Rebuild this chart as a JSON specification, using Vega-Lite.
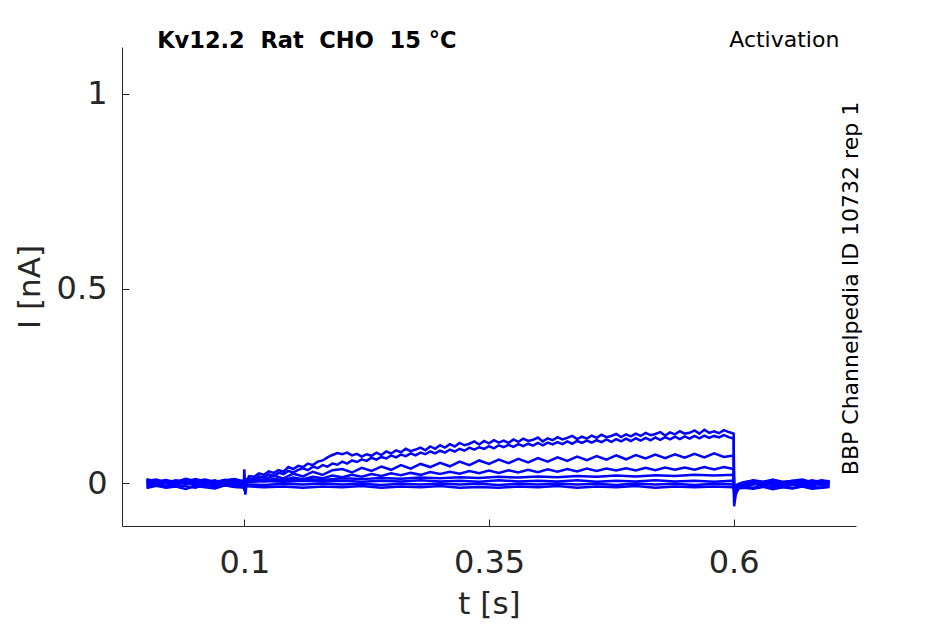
{
  "$schema": "https://vega.github.io/schema/vega-lite/v6.json",
  "width": 734,
  "height": 479,
  "autosize": "none",
  "padding": {"left": 122, "top": 47, "right": 89, "bottom": 98},
  "background": "white",
  "config": {"view": {"stroke": null}, "font": "DejaVu Sans"},
  "layer": [
    {
      "data": {"values": [
        {"trace":"A","t":0,"I":0.003},{"trace":"A","t":0.01,"I":-0.004},{"trace":"A","t":0.02,"I":0.006},{"trace":"A","t":0.03,"I":-0.002},{"trace":"A","t":0.04,"I":0.004},{"trace":"A","t":0.05,"I":-0.005},{"trace":"A","t":0.06,"I":0.002},{"trace":"A","t":0.07,"I":0.007},{"trace":"A","t":0.08,"I":-0.003},{"trace":"A","t":0.09,"I":0.001},{"trace":"A","t":0.0995,"I":0.002},
        {"trace":"A","t":0.1,"I":0.035},{"trace":"A","t":0.101,"I":-0.03},{"trace":"A","t":0.103,"I":0.01},
        {"trace":"A","t":0.105,"I":0.018},{"trace":"A","t":0.11,"I":0.016},{"trace":"A","t":0.115,"I":0.025},{"trace":"A","t":0.12,"I":0.021},{"trace":"A","t":0.125,"I":0.03},{"trace":"A","t":0.13,"I":0.026},{"trace":"A","t":0.135,"I":0.033},{"trace":"A","t":0.14,"I":0.029},{"trace":"A","t":0.145,"I":0.041},{"trace":"A","t":0.15,"I":0.036},
        {"trace":"A","t":0.155,"I":0.044},{"trace":"A","t":0.16,"I":0.041},{"trace":"A","t":0.165,"I":0.05},{"trace":"A","t":0.17,"I":0.046},{"trace":"A","t":0.175,"I":0.055},{"trace":"A","t":0.18,"I":0.058},{"trace":"A","t":0.185,"I":0.066},{"trace":"A","t":0.19,"I":0.072},{"trace":"A","t":0.195,"I":0.077},{"trace":"A","t":0.2,"I":0.074},
        {"trace":"A","t":0.205,"I":0.078},{"trace":"A","t":0.21,"I":0.071},{"trace":"A","t":0.215,"I":0.075},{"trace":"A","t":0.22,"I":0.068},{"trace":"A","t":0.225,"I":0.074},{"trace":"A","t":0.23,"I":0.07},{"trace":"A","t":0.235,"I":0.078},{"trace":"A","t":0.24,"I":0.072},{"trace":"A","t":0.245,"I":0.081},{"trace":"A","t":0.25,"I":0.076},
        {"trace":"A","t":0.255,"I":0.084},{"trace":"A","t":0.26,"I":0.079},{"trace":"A","t":0.265,"I":0.088},{"trace":"A","t":0.27,"I":0.082},{"trace":"A","t":0.275,"I":0.086},{"trace":"A","t":0.28,"I":0.091},{"trace":"A","t":0.285,"I":0.084},{"trace":"A","t":0.29,"I":0.094},{"trace":"A","t":0.295,"I":0.088},{"trace":"A","t":0.3,"I":0.097},
        {"trace":"A","t":0.305,"I":0.091},{"trace":"A","t":0.31,"I":0.1},{"trace":"A","t":0.315,"I":0.094},{"trace":"A","t":0.32,"I":0.103},{"trace":"A","t":0.325,"I":0.097},{"trace":"A","t":0.33,"I":0.101},{"trace":"A","t":0.335,"I":0.107},{"trace":"A","t":0.34,"I":0.099},{"trace":"A","t":0.345,"I":0.108},{"trace":"A","t":0.35,"I":0.102},
        {"trace":"A","t":0.355,"I":0.11},{"trace":"A","t":0.36,"I":0.104},{"trace":"A","t":0.365,"I":0.109},{"trace":"A","t":0.37,"I":0.103},{"trace":"A","t":0.375,"I":0.112},{"trace":"A","t":0.38,"I":0.106},{"trace":"A","t":0.385,"I":0.114},{"trace":"A","t":0.39,"I":0.108},{"trace":"A","t":0.395,"I":0.111},{"trace":"A","t":0.4,"I":0.117},
        {"trace":"A","t":0.405,"I":0.107},{"trace":"A","t":0.41,"I":0.115},{"trace":"A","t":0.415,"I":0.11},{"trace":"A","t":0.42,"I":0.118},{"trace":"A","t":0.425,"I":0.112},{"trace":"A","t":0.43,"I":0.116},{"trace":"A","t":0.435,"I":0.121},{"trace":"A","t":0.44,"I":0.113},{"trace":"A","t":0.445,"I":0.119},{"trace":"A","t":0.45,"I":0.114},
        {"trace":"A","t":0.455,"I":0.122},{"trace":"A","t":0.46,"I":0.116},{"trace":"A","t":0.465,"I":0.124},{"trace":"A","t":0.47,"I":0.118},{"trace":"A","t":0.475,"I":0.121},{"trace":"A","t":0.48,"I":0.126},{"trace":"A","t":0.485,"I":0.118},{"trace":"A","t":0.49,"I":0.125},{"trace":"A","t":0.495,"I":0.12},{"trace":"A","t":0.5,"I":0.127},
        {"trace":"A","t":0.505,"I":0.121},{"trace":"A","t":0.51,"I":0.129},{"trace":"A","t":0.515,"I":0.123},{"trace":"A","t":0.52,"I":0.126},{"trace":"A","t":0.525,"I":0.131},{"trace":"A","t":0.53,"I":0.122},{"trace":"A","t":0.535,"I":0.13},{"trace":"A","t":0.54,"I":0.125},{"trace":"A","t":0.545,"I":0.133},{"trace":"A","t":0.55,"I":0.127},
        {"trace":"A","t":0.555,"I":0.129},{"trace":"A","t":0.56,"I":0.135},{"trace":"A","t":0.565,"I":0.127},{"trace":"A","t":0.57,"I":0.137},{"trace":"A","t":0.575,"I":0.129},{"trace":"A","t":0.58,"I":0.133},{"trace":"A","t":0.585,"I":0.128},{"trace":"A","t":0.59,"I":0.136},{"trace":"A","t":0.595,"I":0.131},{"trace":"A","t":0.6,"I":0.127},
        {"trace":"A","t":0.6005,"I":-0.06},{"trace":"A","t":0.602,"I":-0.03},{"trace":"A","t":0.605,"I":-0.014},{"trace":"A","t":0.61,"I":-0.006},{"trace":"A","t":0.62,"I":0.002},{"trace":"A","t":0.63,"I":-0.005},{"trace":"A","t":0.64,"I":0.004},{"trace":"A","t":0.65,"I":-0.003},{"trace":"A","t":0.66,"I":0.005},{"trace":"A","t":0.67,"I":-0.004},{"trace":"A","t":0.68,"I":0.003},{"trace":"A","t":0.69,"I":-0.006},{"trace":"A","t":0.698,"I":0.002},

        {"trace":"B","t":0,"I":-0.005},{"trace":"B","t":0.01,"I":0.002},{"trace":"B","t":0.02,"I":-0.008},{"trace":"B","t":0.03,"I":0.005},{"trace":"B","t":0.04,"I":-0.003},{"trace":"B","t":0.05,"I":0.004},{"trace":"B","t":0.06,"I":-0.007},{"trace":"B","t":0.07,"I":0.001},{"trace":"B","t":0.08,"I":0.005},{"trace":"B","t":0.09,"I":-0.004},{"trace":"B","t":0.0995,"I":-0.002},
        {"trace":"B","t":0.1,"I":-0.02},{"trace":"B","t":0.101,"I":0.008},
        {"trace":"B","t":0.105,"I":0.012},{"trace":"B","t":0.11,"I":0.009},{"trace":"B","t":0.115,"I":0.017},{"trace":"B","t":0.12,"I":0.014},{"trace":"B","t":0.125,"I":0.022},{"trace":"B","t":0.13,"I":0.018},{"trace":"B","t":0.135,"I":0.026},{"trace":"B","t":0.14,"I":0.023},{"trace":"B","t":0.145,"I":0.031},{"trace":"B","t":0.15,"I":0.027},
        {"trace":"B","t":0.155,"I":0.034},{"trace":"B","t":0.16,"I":0.038},{"trace":"B","t":0.165,"I":0.033},{"trace":"B","t":0.17,"I":0.042},{"trace":"B","t":0.175,"I":0.038},{"trace":"B","t":0.18,"I":0.046},{"trace":"B","t":0.185,"I":0.042},{"trace":"B","t":0.19,"I":0.05},{"trace":"B","t":0.195,"I":0.047},{"trace":"B","t":0.2,"I":0.055},
        {"trace":"B","t":0.205,"I":0.05},{"trace":"B","t":0.21,"I":0.058},{"trace":"B","t":0.215,"I":0.054},{"trace":"B","t":0.22,"I":0.061},{"trace":"B","t":0.225,"I":0.057},{"trace":"B","t":0.23,"I":0.065},{"trace":"B","t":0.235,"I":0.06},{"trace":"B","t":0.24,"I":0.067},{"trace":"B","t":0.245,"I":0.063},{"trace":"B","t":0.25,"I":0.071},
        {"trace":"B","t":0.255,"I":0.066},{"trace":"B","t":0.26,"I":0.073},{"trace":"B","t":0.265,"I":0.069},{"trace":"B","t":0.27,"I":0.076},{"trace":"B","t":0.275,"I":0.071},{"trace":"B","t":0.28,"I":0.078},{"trace":"B","t":0.285,"I":0.074},{"trace":"B","t":0.29,"I":0.081},{"trace":"B","t":0.295,"I":0.076},{"trace":"B","t":0.3,"I":0.083},
        {"trace":"B","t":0.305,"I":0.078},{"trace":"B","t":0.31,"I":0.086},{"trace":"B","t":0.315,"I":0.081},{"trace":"B","t":0.32,"I":0.088},{"trace":"B","t":0.325,"I":0.083},{"trace":"B","t":0.33,"I":0.091},{"trace":"B","t":0.335,"I":0.086},{"trace":"B","t":0.34,"I":0.092},{"trace":"B","t":0.345,"I":0.088},{"trace":"B","t":0.35,"I":0.095},
        {"trace":"B","t":0.355,"I":0.089},{"trace":"B","t":0.36,"I":0.097},{"trace":"B","t":0.365,"I":0.092},{"trace":"B","t":0.37,"I":0.098},{"trace":"B","t":0.375,"I":0.093},{"trace":"B","t":0.38,"I":0.1},{"trace":"B","t":0.385,"I":0.095},{"trace":"B","t":0.39,"I":0.101},{"trace":"B","t":0.395,"I":0.096},{"trace":"B","t":0.4,"I":0.103},
        {"trace":"B","t":0.405,"I":0.097},{"trace":"B","t":0.41,"I":0.104},{"trace":"B","t":0.415,"I":0.099},{"trace":"B","t":0.42,"I":0.105},{"trace":"B","t":0.425,"I":0.1},{"trace":"B","t":0.43,"I":0.107},{"trace":"B","t":0.435,"I":0.101},{"trace":"B","t":0.44,"I":0.108},{"trace":"B","t":0.445,"I":0.103},{"trace":"B","t":0.45,"I":0.109},
        {"trace":"B","t":0.455,"I":0.104},{"trace":"B","t":0.46,"I":0.11},{"trace":"B","t":0.465,"I":0.105},{"trace":"B","t":0.47,"I":0.112},{"trace":"B","t":0.475,"I":0.106},{"trace":"B","t":0.48,"I":0.113},{"trace":"B","t":0.485,"I":0.107},{"trace":"B","t":0.49,"I":0.114},{"trace":"B","t":0.495,"I":0.108},{"trace":"B","t":0.5,"I":0.115},
        {"trace":"B","t":0.505,"I":0.109},{"trace":"B","t":0.51,"I":0.116},{"trace":"B","t":0.515,"I":0.11},{"trace":"B","t":0.52,"I":0.117},{"trace":"B","t":0.525,"I":0.111},{"trace":"B","t":0.53,"I":0.118},{"trace":"B","t":0.535,"I":0.112},{"trace":"B","t":0.54,"I":0.119},{"trace":"B","t":0.545,"I":0.113},{"trace":"B","t":0.55,"I":0.12},
        {"trace":"B","t":0.555,"I":0.114},{"trace":"B","t":0.56,"I":0.121},{"trace":"B","t":0.565,"I":0.115},{"trace":"B","t":0.57,"I":0.122},{"trace":"B","t":0.575,"I":0.116},{"trace":"B","t":0.58,"I":0.121},{"trace":"B","t":0.585,"I":0.117},{"trace":"B","t":0.59,"I":0.123},{"trace":"B","t":0.595,"I":0.118},{"trace":"B","t":0.6,"I":0.114},
        {"trace":"B","t":0.6005,"I":-0.05},{"trace":"B","t":0.602,"I":-0.026},{"trace":"B","t":0.605,"I":-0.012},{"trace":"B","t":0.61,"I":-0.008},{"trace":"B","t":0.62,"I":-0.004},{"trace":"B","t":0.63,"I":0.003},{"trace":"B","t":0.64,"I":-0.006},{"trace":"B","t":0.65,"I":0.002},{"trace":"B","t":0.66,"I":-0.005},{"trace":"B","t":0.67,"I":0.004},{"trace":"B","t":0.68,"I":-0.007},{"trace":"B","t":0.69,"I":0.001},{"trace":"B","t":0.698,"I":-0.004},

        {"trace":"C","t":0,"I":0.007},{"trace":"C","t":0.01,"I":-0.002},{"trace":"C","t":0.02,"I":0.003},{"trace":"C","t":0.03,"I":-0.006},{"trace":"C","t":0.04,"I":0.008},{"trace":"C","t":0.05,"I":-0.001},{"trace":"C","t":0.06,"I":0.004},{"trace":"C","t":0.07,"I":-0.005},{"trace":"C","t":0.08,"I":0.002},{"trace":"C","t":0.09,"I":0.006},{"trace":"C","t":0.0995,"I":0.001},
        {"trace":"C","t":0.1,"I":0.004},{"trace":"C","t":0.11,"I":0.012},{"trace":"C","t":0.12,"I":0.008},{"trace":"C","t":0.13,"I":0.019},{"trace":"C","t":0.14,"I":0.012},{"trace":"C","t":0.15,"I":0.024},{"trace":"C","t":0.16,"I":0.017},{"trace":"C","t":0.17,"I":0.029},{"trace":"C","t":0.18,"I":0.021},{"trace":"C","t":0.19,"I":0.033},{"trace":"C","t":0.2,"I":0.036},
        {"trace":"C","t":0.21,"I":0.027},{"trace":"C","t":0.22,"I":0.039},{"trace":"C","t":0.23,"I":0.031},{"trace":"C","t":0.24,"I":0.042},{"trace":"C","t":0.25,"I":0.034},{"trace":"C","t":0.26,"I":0.046},{"trace":"C","t":0.27,"I":0.037},{"trace":"C","t":0.28,"I":0.049},{"trace":"C","t":0.29,"I":0.041},{"trace":"C","t":0.3,"I":0.052},
        {"trace":"C","t":0.31,"I":0.043},{"trace":"C","t":0.32,"I":0.055},{"trace":"C","t":0.33,"I":0.046},{"trace":"C","t":0.34,"I":0.058},{"trace":"C","t":0.35,"I":0.049},{"trace":"C","t":0.36,"I":0.06},{"trace":"C","t":0.37,"I":0.051},{"trace":"C","t":0.38,"I":0.062},{"trace":"C","t":0.39,"I":0.053},{"trace":"C","t":0.4,"I":0.064},
        {"trace":"C","t":0.41,"I":0.055},{"trace":"C","t":0.42,"I":0.066},{"trace":"C","t":0.43,"I":0.057},{"trace":"C","t":0.44,"I":0.068},{"trace":"C","t":0.45,"I":0.059},{"trace":"C","t":0.46,"I":0.069},{"trace":"C","t":0.47,"I":0.06},{"trace":"C","t":0.48,"I":0.071},{"trace":"C","t":0.49,"I":0.061},{"trace":"C","t":0.5,"I":0.072},
        {"trace":"C","t":0.51,"I":0.063},{"trace":"C","t":0.52,"I":0.073},{"trace":"C","t":0.53,"I":0.064},{"trace":"C","t":0.54,"I":0.074},{"trace":"C","t":0.55,"I":0.065},{"trace":"C","t":0.56,"I":0.075},{"trace":"C","t":0.57,"I":0.066},{"trace":"C","t":0.58,"I":0.076},{"trace":"C","t":0.59,"I":0.067},{"trace":"C","t":0.6,"I":0.071},
        {"trace":"C","t":0.6005,"I":-0.035},{"trace":"C","t":0.602,"I":-0.02},{"trace":"C","t":0.605,"I":-0.01},{"trace":"C","t":0.61,"I":-0.003},{"trace":"C","t":0.62,"I":0.005},{"trace":"C","t":0.63,"I":-0.002},{"trace":"C","t":0.64,"I":0.006},{"trace":"C","t":0.65,"I":-0.004},{"trace":"C","t":0.66,"I":0.003},{"trace":"C","t":0.67,"I":-0.001},{"trace":"C","t":0.68,"I":0.005},{"trace":"C","t":0.69,"I":-0.003},{"trace":"C","t":0.698,"I":0.004},

        {"trace":"D","t":0,"I":-0.009},{"trace":"D","t":0.01,"I":-0.003},{"trace":"D","t":0.02,"I":-0.011},{"trace":"D","t":0.03,"I":-0.005},{"trace":"D","t":0.04,"I":-0.008},{"trace":"D","t":0.05,"I":-0.012},{"trace":"D","t":0.06,"I":-0.004},{"trace":"D","t":0.07,"I":-0.01},{"trace":"D","t":0.08,"I":-0.006},{"trace":"D","t":0.09,"I":-0.009},{"trace":"D","t":0.0995,"I":-0.007},
        {"trace":"D","t":0.1,"I":0.002},{"trace":"D","t":0.11,"I":0.008},{"trace":"D","t":0.12,"I":0.004},{"trace":"D","t":0.13,"I":0.011},{"trace":"D","t":0.14,"I":0.007},{"trace":"D","t":0.15,"I":0.014},{"trace":"D","t":0.16,"I":0.01},{"trace":"D","t":0.17,"I":0.016},{"trace":"D","t":0.18,"I":0.012},{"trace":"D","t":0.19,"I":0.019},{"trace":"D","t":0.2,"I":0.015},
        {"trace":"D","t":0.21,"I":0.021},{"trace":"D","t":0.22,"I":0.016},{"trace":"D","t":0.23,"I":0.023},{"trace":"D","t":0.24,"I":0.018},{"trace":"D","t":0.25,"I":0.025},{"trace":"D","t":0.26,"I":0.02},{"trace":"D","t":0.27,"I":0.026},{"trace":"D","t":0.28,"I":0.021},{"trace":"D","t":0.29,"I":0.028},{"trace":"D","t":0.3,"I":0.023},
        {"trace":"D","t":0.31,"I":0.029},{"trace":"D","t":0.32,"I":0.024},{"trace":"D","t":0.33,"I":0.031},{"trace":"D","t":0.34,"I":0.025},{"trace":"D","t":0.35,"I":0.032},{"trace":"D","t":0.36,"I":0.026},{"trace":"D","t":0.37,"I":0.033},{"trace":"D","t":0.38,"I":0.027},{"trace":"D","t":0.39,"I":0.034},{"trace":"D","t":0.4,"I":0.028},
        {"trace":"D","t":0.41,"I":0.035},{"trace":"D","t":0.42,"I":0.029},{"trace":"D","t":0.43,"I":0.036},{"trace":"D","t":0.44,"I":0.03},{"trace":"D","t":0.45,"I":0.037},{"trace":"D","t":0.46,"I":0.031},{"trace":"D","t":0.47,"I":0.037},{"trace":"D","t":0.48,"I":0.032},{"trace":"D","t":0.49,"I":0.038},{"trace":"D","t":0.5,"I":0.032},
        {"trace":"D","t":0.51,"I":0.039},{"trace":"D","t":0.52,"I":0.033},{"trace":"D","t":0.53,"I":0.04},{"trace":"D","t":0.54,"I":0.034},{"trace":"D","t":0.55,"I":0.04},{"trace":"D","t":0.56,"I":0.034},{"trace":"D","t":0.57,"I":0.041},{"trace":"D","t":0.58,"I":0.035},{"trace":"D","t":0.59,"I":0.041},{"trace":"D","t":0.6,"I":0.036},
        {"trace":"D","t":0.6005,"I":-0.028},{"trace":"D","t":0.602,"I":-0.016},{"trace":"D","t":0.605,"I":-0.012},{"trace":"D","t":0.61,"I":-0.009},{"trace":"D","t":0.62,"I":-0.012},{"trace":"D","t":0.63,"I":-0.007},{"trace":"D","t":0.64,"I":-0.011},{"trace":"D","t":0.65,"I":-0.006},{"trace":"D","t":0.66,"I":-0.013},{"trace":"D","t":0.67,"I":-0.008},{"trace":"D","t":0.68,"I":-0.01},{"trace":"D","t":0.69,"I":-0.012},{"trace":"D","t":0.698,"I":-0.007},

        {"trace":"E","t":0,"I":0.01},{"trace":"E","t":0.01,"I":0.004},{"trace":"E","t":0.02,"I":0.008},{"trace":"E","t":0.03,"I":0.002},{"trace":"E","t":0.04,"I":0.011},{"trace":"E","t":0.05,"I":0.005},{"trace":"E","t":0.06,"I":0.009},{"trace":"E","t":0.07,"I":0.003},{"trace":"E","t":0.08,"I":0.007},{"trace":"E","t":0.09,"I":0.01},{"trace":"E","t":0.0995,"I":0.004},
        {"trace":"E","t":0.1,"I":0.003},{"trace":"E","t":0.12,"I":0.008},{"trace":"E","t":0.14,"I":0.006},{"trace":"E","t":0.16,"I":0.01},{"trace":"E","t":0.18,"I":0.008},{"trace":"E","t":0.2,"I":0.012},{"trace":"E","t":0.22,"I":0.01},{"trace":"E","t":0.24,"I":0.013},{"trace":"E","t":0.26,"I":0.011},{"trace":"E","t":0.28,"I":0.014},{"trace":"E","t":0.3,"I":0.012},{"trace":"E","t":0.32,"I":0.015},{"trace":"E","t":0.34,"I":0.013},
        {"trace":"E","t":0.36,"I":0.016},{"trace":"E","t":0.38,"I":0.014},{"trace":"E","t":0.4,"I":0.017},{"trace":"E","t":0.42,"I":0.015},{"trace":"E","t":0.44,"I":0.018},{"trace":"E","t":0.46,"I":0.016},{"trace":"E","t":0.48,"I":0.019},{"trace":"E","t":0.5,"I":0.017},{"trace":"E","t":0.52,"I":0.02},{"trace":"E","t":0.54,"I":0.018},{"trace":"E","t":0.56,"I":0.021},{"trace":"E","t":0.58,"I":0.019},{"trace":"E","t":0.6,"I":0.021},
        {"trace":"E","t":0.6005,"I":-0.022},{"trace":"E","t":0.602,"I":-0.01},{"trace":"E","t":0.605,"I":-0.004},{"trace":"E","t":0.61,"I":0.001},{"trace":"E","t":0.62,"I":0.007},{"trace":"E","t":0.63,"I":0.003},{"trace":"E","t":0.64,"I":0.008},{"trace":"E","t":0.65,"I":0.001},{"trace":"E","t":0.66,"I":0.006},{"trace":"E","t":0.67,"I":0.009},{"trace":"E","t":0.68,"I":0.002},{"trace":"E","t":0.69,"I":0.007},{"trace":"E","t":0.698,"I":0.004},

        {"trace":"F","t":0,"I":-0.001},{"trace":"F","t":0.01,"I":-0.006},{"trace":"F","t":0.02,"I":0},{"trace":"F","t":0.03,"I":-0.004},{"trace":"F","t":0.04,"I":0.002},{"trace":"F","t":0.05,"I":-0.007},{"trace":"F","t":0.06,"I":-0.002},{"trace":"F","t":0.07,"I":-0.005},{"trace":"F","t":0.08,"I":0.001},{"trace":"F","t":0.09,"I":-0.003},{"trace":"F","t":0.0995,"I":-0.004},
        {"trace":"F","t":0.1,"I":0.002},{"trace":"F","t":0.12,"I":0.005},{"trace":"F","t":0.14,"I":0.003},{"trace":"F","t":0.16,"I":0.006},{"trace":"F","t":0.18,"I":0.004},{"trace":"F","t":0.2,"I":0.006},{"trace":"F","t":0.22,"I":0.003},{"trace":"F","t":0.24,"I":0.006},{"trace":"F","t":0.26,"I":0.004},{"trace":"F","t":0.28,"I":0.007},{"trace":"F","t":0.3,"I":0.004},{"trace":"F","t":0.32,"I":0.006},{"trace":"F","t":0.34,"I":0.003},
        {"trace":"F","t":0.36,"I":0.007},{"trace":"F","t":0.38,"I":0.004},{"trace":"F","t":0.4,"I":0.006},{"trace":"F","t":0.42,"I":0.004},{"trace":"F","t":0.44,"I":0.007},{"trace":"F","t":0.46,"I":0.003},{"trace":"F","t":0.48,"I":0.006},{"trace":"F","t":0.5,"I":0.004},{"trace":"F","t":0.52,"I":0.007},{"trace":"F","t":0.54,"I":0.004},{"trace":"F","t":0.56,"I":0.006},{"trace":"F","t":0.58,"I":0.003},{"trace":"F","t":0.6,"I":0.006},
        {"trace":"F","t":0.6005,"I":-0.018},{"trace":"F","t":0.602,"I":-0.012},{"trace":"F","t":0.605,"I":-0.008},{"trace":"F","t":0.61,"I":-0.005},{"trace":"F","t":0.62,"I":-0.002},{"trace":"F","t":0.63,"I":-0.007},{"trace":"F","t":0.64,"I":-0.001},{"trace":"F","t":0.65,"I":-0.006},{"trace":"F","t":0.66,"I":-0.003},{"trace":"F","t":0.67,"I":-0.008},{"trace":"F","t":0.68,"I":-0.002},{"trace":"F","t":0.69,"I":-0.005},{"trace":"F","t":0.698,"I":-0.001},

        {"trace":"G","t":0,"I":-0.013},{"trace":"G","t":0.01,"I":-0.007},{"trace":"G","t":0.02,"I":-0.012},{"trace":"G","t":0.03,"I":-0.009},{"trace":"G","t":0.04,"I":-0.015},{"trace":"G","t":0.05,"I":-0.008},{"trace":"G","t":0.06,"I":-0.011},{"trace":"G","t":0.07,"I":-0.014},{"trace":"G","t":0.08,"I":-0.006},{"trace":"G","t":0.09,"I":-0.01},{"trace":"G","t":0.0995,"I":-0.012},
        {"trace":"G","t":0.1,"I":-0.003},{"trace":"G","t":0.12,"I":-0.005},{"trace":"G","t":0.14,"I":-0.002},{"trace":"G","t":0.16,"I":-0.004},{"trace":"G","t":0.18,"I":-0.001},{"trace":"G","t":0.2,"I":-0.004},{"trace":"G","t":0.22,"I":-0.002},{"trace":"G","t":0.24,"I":-0.005},{"trace":"G","t":0.26,"I":-0.002},{"trace":"G","t":0.28,"I":-0.004},{"trace":"G","t":0.3,"I":-0.001},{"trace":"G","t":0.32,"I":-0.004},{"trace":"G","t":0.34,"I":-0.002},
        {"trace":"G","t":0.36,"I":-0.005},{"trace":"G","t":0.38,"I":-0.002},{"trace":"G","t":0.4,"I":-0.004},{"trace":"G","t":0.42,"I":-0.001},{"trace":"G","t":0.44,"I":-0.004},{"trace":"G","t":0.46,"I":-0.002},{"trace":"G","t":0.48,"I":-0.005},{"trace":"G","t":0.5,"I":-0.001},{"trace":"G","t":0.52,"I":-0.004},{"trace":"G","t":0.54,"I":-0.002},{"trace":"G","t":0.56,"I":-0.005},{"trace":"G","t":0.58,"I":-0.002},{"trace":"G","t":0.6,"I":-0.004},
        {"trace":"G","t":0.6005,"I":-0.02},{"trace":"G","t":0.602,"I":-0.016},{"trace":"G","t":0.605,"I":-0.014},{"trace":"G","t":0.61,"I":-0.012},{"trace":"G","t":0.62,"I":-0.015},{"trace":"G","t":0.63,"I":-0.01},{"trace":"G","t":0.64,"I":-0.016},{"trace":"G","t":0.65,"I":-0.011},{"trace":"G","t":0.66,"I":-0.014},{"trace":"G","t":0.67,"I":-0.009},{"trace":"G","t":0.68,"I":-0.015},{"trace":"G","t":0.69,"I":-0.012},{"trace":"G","t":0.698,"I":-0.01},

        {"trace":"H","t":0,"I":0.005},{"trace":"H","t":0.01,"I":0.009},{"trace":"H","t":0.02,"I":0.001},{"trace":"H","t":0.03,"I":0.007},{"trace":"H","t":0.04,"I":0.003},{"trace":"H","t":0.05,"I":0.01},{"trace":"H","t":0.06,"I":0.004},{"trace":"H","t":0.07,"I":0},{"trace":"H","t":0.08,"I":0.008},{"trace":"H","t":0.09,"I":0.002},{"trace":"H","t":0.0995,"I":0.006},
        {"trace":"H","t":0.1,"I":-0.008},{"trace":"H","t":0.12,"I":-0.011},{"trace":"H","t":0.14,"I":-0.009},{"trace":"H","t":0.16,"I":-0.012},{"trace":"H","t":0.18,"I":-0.009},{"trace":"H","t":0.2,"I":-0.011},{"trace":"H","t":0.22,"I":-0.008},{"trace":"H","t":0.24,"I":-0.012},{"trace":"H","t":0.26,"I":-0.009},{"trace":"H","t":0.28,"I":-0.011},{"trace":"H","t":0.3,"I":-0.008},{"trace":"H","t":0.32,"I":-0.012},{"trace":"H","t":0.34,"I":-0.01},
        {"trace":"H","t":0.36,"I":-0.012},{"trace":"H","t":0.38,"I":-0.009},{"trace":"H","t":0.4,"I":-0.011},{"trace":"H","t":0.42,"I":-0.008},{"trace":"H","t":0.44,"I":-0.012},{"trace":"H","t":0.46,"I":-0.009},{"trace":"H","t":0.48,"I":-0.011},{"trace":"H","t":0.5,"I":-0.008},{"trace":"H","t":0.52,"I":-0.012},{"trace":"H","t":0.54,"I":-0.009},{"trace":"H","t":0.56,"I":-0.011},{"trace":"H","t":0.58,"I":-0.009},{"trace":"H","t":0.6,"I":-0.011},
        {"trace":"H","t":0.6005,"I":-0.015},{"trace":"H","t":0.602,"I":-0.006},{"trace":"H","t":0.605,"I":-0.002},{"trace":"H","t":0.61,"I":0.002},{"trace":"H","t":0.62,"I":0.006},{"trace":"H","t":0.63,"I":0.001},{"trace":"H","t":0.64,"I":0.008},{"trace":"H","t":0.65,"I":0.003},{"trace":"H","t":0.66,"I":0.005},{"trace":"H","t":0.67,"I":0},{"trace":"H","t":0.68,"I":0.007},{"trace":"H","t":0.69,"I":0.002},{"trace":"H","t":0.698,"I":0.005}
      ]},
      "mark": {"type": "line", "color": "#0000FF", "strokeWidth": 2.5, "clip": true},
      "encoding": {
        "x": {
          "field": "t",
          "type": "quantitative",
          "scale": {"domain": [-0.025, 0.725], "nice": false, "zero": false},
          "axis": {
            "title": "t [s]",
            "values": [0.1, 0.35, 0.6],
            "format": "~g",
            "grid": false,
            "domainColor": "#262626",
            "tickColor": "#262626",
            "tickSize": -7,
            "labelPadding": 28,
            "labelFontSize": 32,
            "labelColor": "#262626",
            "labelFont": "DejaVu Sans",
            "titleFontSize": 31,
            "titleFont": "DejaVu Sans",
            "titleFontWeight": "normal",
            "titleColor": "#262626",
            "titlePadding": 11
          }
        },
        "y": {
          "field": "I",
          "type": "quantitative",
          "scale": {"domain": [-0.1105, 1.1208], "nice": false, "zero": false},
          "axis": {
            "title": "I [nA]",
            "values": [0, 0.5, 1],
            "format": "~g",
            "grid": false,
            "domainColor": "#262626",
            "tickColor": "#262626",
            "tickSize": -7,
            "labelPadding": 22,
            "labelFontSize": 32,
            "labelColor": "#262626",
            "labelFont": "DejaVu Sans",
            "titleFontSize": 31,
            "titleFont": "DejaVu Sans",
            "titleFontWeight": "normal",
            "titleColor": "#262626",
            "titlePadding": 10
          }
        },
        "detail": {"field": "trace", "type": "nominal"}
      }
    },
    {
      "data": {"values": [{}]},
      "mark": {"type": "text", "text": "Kv12.2\u00a0 Rat\u00a0 CHO\u00a0 15 °C", "align": "left", "baseline": "alphabetic", "font": "DejaVu Sans", "fontSize": 22.5, "fontWeight": "bold", "color": "black"},
      "encoding": {"x": {"datum": 0.0109}, "y": {"datum": 1.119}}
    },
    {
      "data": {"values": [{}]},
      "mark": {"type": "text", "text": "Activation", "align": "right", "baseline": "middle", "font": "DejaVu Sans", "fontSize": 22, "color": "black"},
      "encoding": {"x": {"datum": 0.708}, "y": {"datum": 1.139}}
    },
    {
      "data": {"values": [{}]},
      "mark": {"type": "text", "text": "BBP Channelpedia ID 10732 rep 1", "align": "center", "baseline": "middle", "angle": 270, "font": "DejaVu Sans", "fontSize": 22, "color": "black"},
      "encoding": {"x": {"datum": 0.7195}, "y": {"datum": 0.5}}
    }
  ]
}
